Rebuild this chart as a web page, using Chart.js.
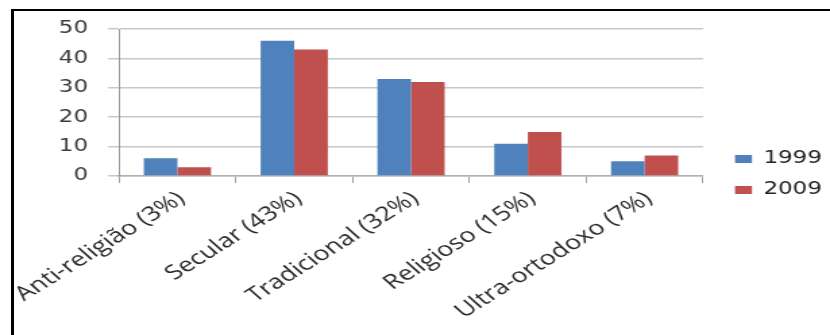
<!DOCTYPE html>
<html>
<head>
<meta charset="utf-8">
<script src="https://cdn.jsdelivr.net/npm/chart.js@4/dist/chart.umd.min.js"></script>
<style>
  html, body { margin: 0; padding: 0; background: #fff; overflow: hidden; }
  body { width: 830px; height: 335px; position: relative; }
  #frame {
    position: absolute; left: 11px; top: 9px; width: 900px; height: 400px;
    border-left: 3px solid #000; border-top: 2px solid #000; box-sizing: border-box;
  }
  /* the chart is laid out narrow and widened horizontally to fill the frame */
  #wrap {
    position: absolute; left: 0; top: 0; width: 615px; height: 335px;
    transform: scaleX(1.3496); transform-origin: 0 0;
  }
</style>
</head>
<body>
<div id="frame"></div>
<div id="wrap"><canvas id="c" width="615" height="335"></canvas></div>
<script>
const categories = ['Anti-religião (3%)', 'Secular (43%)', 'Tradicional (32%)', 'Religioso (15%)', 'Ultra-ortodoxo (7%)'];
const values1999 = [6, 46, 33, 11, 5];
const values2009 = [3, 43, 32, 15, 7];
const seriesNames = ['1999', '2009'];
const yTicks = [0, 10, 20, 30, 40, 50];

const CANVAS_W = 615;
const AREA_LEFT = 88.2;
const AREA_RIGHT = 520.9;
const AREA_BOTTOM = 176;
const CANVAS_H = 335;

const layoutTweaks = {
  id: 'layoutTweaks',
  beforeInit(chart) {
    const legend = chart.legend;
    const baseFit = legend.fit;
    legend.fit = function () {
      baseFit.call(this);
      this.width = CANVAS_W - AREA_RIGHT;
    };
  },
  afterLayout(chart) {
    const legend = chart.legend;
    legend.left = AREA_RIGHT + 9.7;
    legend.right = legend.left + legend.width;
    legend.top = 14;
    legend.bottom = CANVAS_H;
  }
};

new Chart(document.getElementById('c'), {
  type: 'bar',
  data: {
    labels: categories,
    datasets: [
      { label: seriesNames[0], data: values1999, backgroundColor: '#4F81BD', borderWidth: 0 },
      { label: seriesNames[1], data: values2009, backgroundColor: '#C0504D', borderWidth: 0 }
    ]
  },
  options: {
    responsive: false,
    animation: false,
    layout: { padding: { top: 29, left: 0, right: 0, bottom: 0 } },
    datasets: { bar: { categoryPercentage: 0.575, barPercentage: 1.0 } },
    scales: {
      x: {
        offset: true,
        grid: { display: true, drawOnChartArea: false, drawTicks: true, tickLength: 7, color: '#a0a0a0', offset: true },
        border: { display: true, color: '#b0b0b0', width: 1.5 },
        ticks: {
          autoSkip: false, minRotation: 40, maxRotation: 40, padding: 4, labelOffset: 3,
          color: '#2a2a2a', font: { family: '"Open Sans"', size: 20 }
        },
        afterFit(scale) {
          scale.height = CANVAS_H - AREA_BOTTOM;
          scale.paddingLeft = 0;
          scale.paddingRight = 0;
        }
      },
      y: {
        min: 0, max: 50,
        afterBuildTicks(scale) { scale.ticks = yTicks.map(v => ({ value: v })); },
        grid: { color: '#c8c8c8', lineWidth: 1.5, drawTicks: true, tickLength: 8 },
        border: { display: true, color: '#999', width: 1 },
        ticks: { padding: 15, color: '#3a3a3a', font: { family: '"DejaVu Sans"', size: 17 } },
        afterFit(scale) { scale.width = AREA_LEFT; }
      }
    },
    plugins: {
      legend: {
        position: 'right',
        align: 'center',
        labels: {
          boxWidth: 12.6, boxHeight: 8, padding: 14,
          color: '#222', font: { family: '"DejaVu Sans"', size: 17 }
        }
      },
      tooltip: { enabled: false }
    }
  },
  plugins: [layoutTweaks]
});
</script>
</body>
</html>
